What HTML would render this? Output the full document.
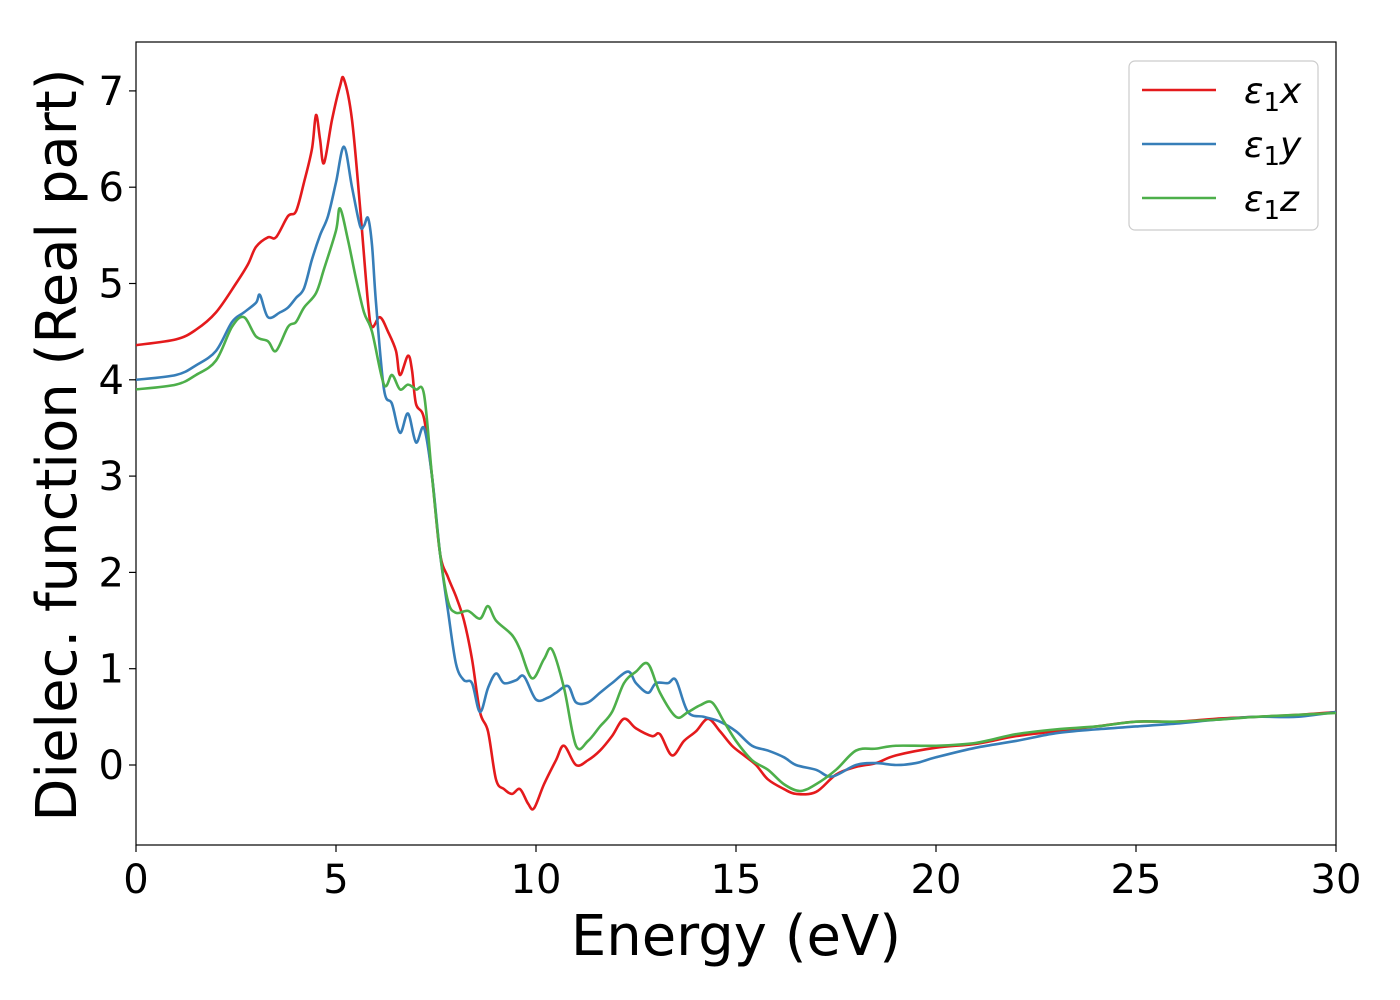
<!DOCTYPE html>
<html><head><meta charset="utf-8"><style>
html,body{margin:0;padding:0;background:#fff;}
svg{display:block;font-family:"DejaVu Sans","Liberation Sans",sans-serif;}
</style></head><body>
<svg id="chart" width="1400" height="1000">
<rect x="136" y="42" width="1200" height="803" fill="#fff" stroke="#000" stroke-width="1.2"/>
<g id="series"></g>
<g id="xticks"></g>
<g id="yticks"></g>
<text x="736" y="955" font-size="56" text-anchor="middle">Energy (eV)</text>
<text transform="translate(76,445) rotate(-90)" font-size="56" text-anchor="middle">Dielec. function (Real part)</text>
<g>
<rect x="1129" y="61" width="189" height="169" rx="6" fill="#fff" stroke="#ccc" stroke-width="1.2"/>
<g id="legend"></g>
</g>
</svg>
<script>
const xTicks=[0,5,10,15,20,25,30];
const yTicks=[0,1,2,3,4,5,6,7];
const seriesNames=["x","y","z"];
const seriesColors=["#e41a1c","#377eb8","#4daf4a"];
const redX=[0,1,1.5,2,2.5,2.8,3.0,3.3,3.5,3.8,4.0,4.2,4.4,4.5,4.6,4.7,4.9,5.1,5.2,5.4,5.6,5.8,5.9,6.1,6.3,6.5,6.6,6.8,6.9,7.0,7.2,7.4,7.6,7.8,8.0,8.2,8.4,8.6,8.8,9.0,9.2,9.4,9.6,9.8,9.95,10.2,10.5,10.7,11.0,11.3,11.6,11.9,12.2,12.5,12.9,13.1,13.4,13.7,14.0,14.3,14.6,14.9,15.2,15.5,15.8,16.2,16.5,17.0,17.5,18,18.5,19,20,21,22,23,24,25,26,27,28,29,30];
const redY=[4.36,4.42,4.52,4.7,5.0,5.2,5.38,5.48,5.48,5.7,5.75,6.05,6.4,6.75,6.5,6.25,6.7,7.05,7.12,6.7,5.8,4.8,4.55,4.65,4.5,4.3,4.05,4.25,4.1,3.75,3.6,3.0,2.2,1.95,1.75,1.5,1.1,0.55,0.35,-0.15,-0.25,-0.3,-0.25,-0.4,-0.45,-0.2,0.05,0.2,0.0,0.05,0.15,0.3,0.48,0.38,0.3,0.32,0.1,0.25,0.35,0.48,0.35,0.2,0.1,0.0,-0.15,-0.25,-0.3,-0.28,-0.1,-0.02,0.02,0.1,0.18,0.22,0.3,0.35,0.4,0.45,0.45,0.48,0.5,0.52,0.55];
const blueX=[0,1,1.5,2,2.4,2.7,3.0,3.1,3.3,3.6,3.8,4.0,4.2,4.4,4.6,4.8,5.0,5.2,5.4,5.6,5.7,5.8,5.9,6.0,6.2,6.4,6.6,6.8,7.0,7.2,7.4,7.6,7.8,8.0,8.2,8.4,8.6,8.8,9.0,9.2,9.5,9.7,10.0,10.3,10.5,10.8,11.0,11.3,11.6,11.9,12.3,12.5,12.8,13.0,13.3,13.5,13.8,14.2,14.6,15.0,15.4,15.8,16.2,16.5,17,17.4,18,18.5,19,19.5,20,21,22,23,24,25,26,27,28,29,30];
const blueY=[4.0,4.05,4.15,4.3,4.6,4.7,4.8,4.88,4.65,4.7,4.75,4.85,4.95,5.25,5.5,5.7,6.05,6.42,6.0,5.6,5.6,5.68,5.4,4.8,3.9,3.75,3.45,3.65,3.35,3.5,3.0,2.2,1.6,1.05,0.88,0.85,0.55,0.8,0.95,0.85,0.88,0.92,0.68,0.7,0.75,0.82,0.65,0.65,0.75,0.85,0.97,0.85,0.75,0.85,0.85,0.88,0.55,0.5,0.45,0.35,0.2,0.15,0.08,0.0,-0.05,-0.12,0.0,0.02,0.0,0.02,0.08,0.18,0.25,0.33,0.37,0.4,0.43,0.47,0.5,0.5,0.55];
const greenX=[0,1,1.5,2,2.4,2.7,3.0,3.3,3.5,3.8,4.0,4.2,4.5,4.7,5.0,5.1,5.3,5.5,5.7,5.9,6.2,6.4,6.6,6.8,7.0,7.2,7.4,7.6,7.8,8.0,8.3,8.6,8.8,9.0,9.4,9.6,9.9,10.2,10.4,10.7,11.0,11.3,11.6,11.9,12.2,12.5,12.8,13.1,13.5,13.8,14.1,14.4,14.7,15.0,15.4,15.8,16.2,16.6,17,17.5,18,18.5,19,20,21,22,23,24,25,26,27,28,29,30];
const greenY=[3.9,3.95,4.05,4.2,4.55,4.65,4.45,4.4,4.3,4.55,4.6,4.75,4.9,5.15,5.55,5.78,5.45,5.05,4.7,4.5,3.95,4.05,3.9,3.95,3.9,3.85,3.0,2.2,1.7,1.58,1.6,1.52,1.65,1.5,1.35,1.2,0.9,1.1,1.2,0.8,0.2,0.25,0.4,0.55,0.85,0.97,1.05,0.75,0.5,0.55,0.62,0.65,0.45,0.25,0.05,-0.05,-0.2,-0.27,-0.2,-0.05,0.15,0.17,0.2,0.2,0.23,0.32,0.37,0.4,0.45,0.45,0.47,0.5,0.52,0.54];
const X=v=>136+v*40;
const Y=v=>765-v*96.3;
const NS="http://www.w3.org/2000/svg";
function mk(t,a){const e=document.createElementNS(NS,t);for(const k in a)e.setAttribute(k,a[k]);return e;}
function smooth(xs,ys){const p=xs.map((x,i)=>[X(x),Y(ys[i])]);let d="M"+p[0][0]+","+p[0][1];
for(let i=0;i<p.length-1;i++){const p0=p[i-1]||p[i],p1=p[i],p2=p[i+1],p3=p[i+2]||p2;
const c1=[p1[0]+(p2[0]-p0[0])/6,p1[1]+(p2[1]-p0[1])/6],c2=[p2[0]-(p3[0]-p1[0])/6,p2[1]-(p3[1]-p1[1])/6];
d+=" C"+c1[0]+","+c1[1]+" "+c2[0]+","+c2[1]+" "+p2[0]+","+p2[1];}return d;}
const sg=document.getElementById("series");
const data=[[redX,redY],[blueX,blueY],[greenX,greenY]];
const order=[1,2,0];
const clip=mk("clipPath",{id:"pc"});clip.appendChild(mk("rect",{x:136,y:42,width:1200,height:803}));
document.getElementById("chart").prepend(clip);
[0,1,2].forEach(i=>{const p=mk("path",{d:smooth(data[i][0],data[i][1]),fill:"none",stroke:seriesColors[i],"stroke-width":2.6,"clip-path":"url(#pc)"});


sg.appendChild(p);});
const xg=document.getElementById("xticks");
xTicks.forEach(t=>{const l=mk("line",{x1:X(t),x2:X(t),y1:845,y2:852,stroke:"#000","stroke-width":1.2});


xg.appendChild(l);
const tx=mk("text",{x:X(t),y:893,"font-size":40,"text-anchor":"middle"});tx.textContent=t;


xg.appendChild(tx);});
const yg=document.getElementById("yticks");
yTicks.forEach(t=>{const l=mk("line",{x1:129,x2:136,y1:Y(t),y2:Y(t),stroke:"#000","stroke-width":1.2});


yg.appendChild(l);
const tx=mk("text",{x:124,y:Y(t)+14,"font-size":40,"text-anchor":"end"});tx.textContent=t;


yg.appendChild(tx);});
const lg=document.getElementById("legend");
[0,1,2].forEach(i=>{const y=90+i*54;
const l=mk("line",{x1:1142,x2:1216,y1:y,y2:y,stroke:seriesColors[i],"stroke-width":2.6});


lg.appendChild(l);
const tx=mk("text",{x:1244,y:y+13,"font-size":36,"font-style":"italic"});
tx.innerHTML='ε<tspan font-style="normal" font-size="26" dy="8">1</tspan><tspan dy="-8">'+seriesNames[i]+'</tspan>';


lg.appendChild(tx);});
</script>
</body></html>
